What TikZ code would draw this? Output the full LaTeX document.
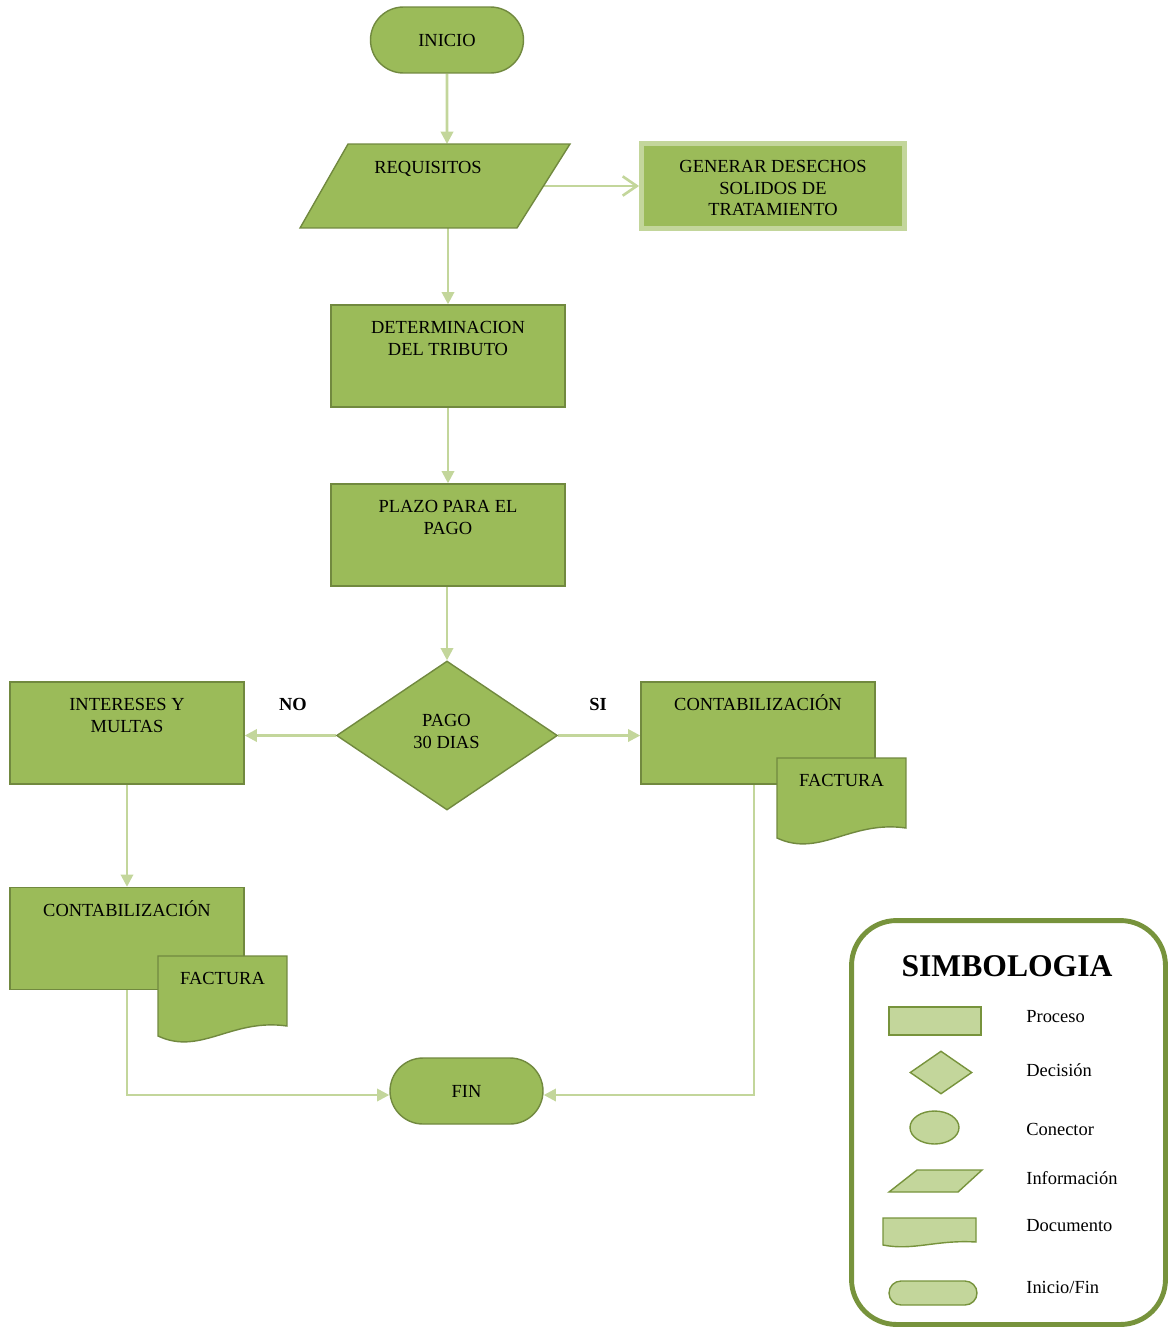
\documentclass[tikz,border=0pt]{standalone}
\usepackage{fontspec}
\setmainfont{Liberation Serif}
\usetikzlibrary{arrows.meta, positioning, shapes.geometric, shapes.misc, calc, backgrounds}

\definecolor{leaf}{HTML}{9BBB59}
\definecolor{leafdark}{HTML}{71893F}
\definecolor{leaflight}{HTML}{C3D69B}
\definecolor{legendline}{HTML}{77933C}

% slanted box (Informacion) drawn round a holder node
\newcommand{\slantbox}[4]{%
  \path [#4] (#1.south west) -- ($(#1.north west)+(#2,0)$) -- (#1.north east)
    -- ($(#1.south east)+(-#3,0)$) -- cycle;}
% document shape with a wavy bottom
\newcommand{\docbox}[3]{%
  \path [#3] (#1.south east) -- (#1.north east) -- (#1.north west)
    -- ($(#1.south west)+(0,10*#2)$)
    .. controls ($(#1.south west)!0.33!(#1.south east)+(0,30*#2)$)
    and ($(#1.south west)!0.57!(#1.south east)+(0,-8*#2)$) .. (#1.south east)
    -- cycle;}

\tikzset{
  base/.style = {fill=leaf, draw=leafdark, line width=0.8pt, inner sep=0pt,
    align=center, font=\fontsize{10.5}{12.5}\selectfont},
  proc/.style = {base, rectangle, minimum width=4.68cm, minimum height=2.04cm},
  terminal/.style = {base, rounded rectangle, minimum width=3.06cm, minimum height=1.32cm},
  decision/.style = {base, diamond, minimum width=4.42cm, minimum height=2.98cm},
  holder/.style = {rectangle, inner sep=0pt, outer sep=0pt},
  txt/.style = {align=center, inner sep=0pt, font=\fontsize{10.5}{12.5}\selectfont},
  answer/.style = {inner sep=0pt, font=\bfseries\fontsize{10.5}{12.5}\selectfont},
  sym/.style = {fill=leaflight, draw=legendline, line width=0.8pt, inner sep=0pt},
  symtxt/.style = {anchor=west, inner sep=0pt, font=\fontsize{10.5}{12.5}\selectfont},
  link/.style = {draw=leaflight, line width=1.5pt, -{Triangle[length=7pt,width=7pt]}},
  link open/.style = {draw=leaflight, line width=1.5pt, -{Straight Barb[length=8pt,width=11pt]}}
}

\begin{document}
\begin{tikzpicture}[x=0.02cm, y=-0.02cm]
    \useasboundingbox (0,0) rectangle (1170,1329);

    % flow
    \node (ini) [terminal] at (447,40) {INICIO};
    \node (req) [holder, minimum width=5.4cm, minimum height=1.68cm] at (435,186) {};
    \slantbox{req}{48}{53}{base}
    \node (reqT) [txt, below=0.34cm of req.north, xshift=-0.14cm] {REQUISITOS};
    \node (gen) [proc, draw=leaflight, line width=2.8pt,
        minimum width=5.26cm, minimum height=1.70cm] at (773,186) {};
    \node (genT) [txt] at (773,188) {GENERAR DESECHOS\\SOLIDOS DE\\TRATAMIENTO};
    \node (det) [proc] at (448,356) {};
    \node (detT) [txt, below=0.34cm of det.north] {DETERMINACION\\DEL TRIBUTO};
    \node (plazo) [proc] at (448,535) {};
    \node (plazoT) [txt, below=0.34cm of plazo.north] {PLAZO PARA EL\\PAGO};
    \node (pago) [decision] at (447,735.5) {};
    \node (pagoT) [txt] at (446.5,731) {PAGO\\30 DIAS};

    % NO branch
    \node (int) [proc] at (127,733) {};
    \node (intT) [txt, below=0.34cm of int.north] {INTERESES Y\\MULTAS};
    \node (no) [answer] at (293,704) {NO};
    \node (cont1) [proc] at (127,938.5) {};
    \node (cont1T) [txt, below=0.26cm of cont1.north] {CONTABILIZACIÓN};
    \node (fac1) [holder, minimum width=2.58cm, minimum height=1.40cm] at (222.5,991) {};
    \docbox{fac1}{1}{base}
    \node (fac1T) [txt, below=0.32cm of fac1.north] {FACTURA};

    % SI branch
    \node (si) [answer] at (598,704) {SI};
    \node (cont2) [proc] at (758,733) {};
    \node (cont2T) [txt, below=0.26cm of cont2.north] {CONTABILIZACIÓN};
    \node (fac2) [holder, minimum width=2.58cm, minimum height=1.40cm] at (841.5,793) {};
    \docbox{fac2}{1}{base}
    \node (fac2T) [txt, below=0.32cm of fac2.north] {FACTURA};

    \node (fin) [terminal] at (466.5,1091) {FIN};

    \begin{scope}[on background layer]
    \draw [link] (ini) -- (ini |- req.north);
    \draw [link open] (req.center) -- (gen);
    \draw [link] (det.north |- req.south) -- (det);
    \draw [link] (det) -- (plazo);
    \draw [link] (plazo.south -| pago.north) -- (pago);
    \draw [link] (pago.west) -- (int.east |- pago.west);
    \draw [link] (pago.east) -- (cont2.west |- pago.east);
    \draw [link] (int) -- (cont1);
    \draw [link] (cont1.south) |- ($(fin.west)+(0,4)$);
    \draw [link] ($(cont2.south)+(-4,0)$) |- ($(fin.east)+(0,4)$);
    \end{scope}

    % legend
    \node (legend) [draw=legendline, line width=2.8pt, rounded corners=0.9cm,
        minimum width=6.28cm, minimum height=8.08cm, inner sep=0pt] at (1008.5,1122.5) {};
    \node (legT) [font=\bfseries\fontsize{18}{20}\selectfont] at (1007,966) {SIMBOLOGIA};
    \node (sProc) [sym, rectangle, minimum width=1.84cm, minimum height=0.56cm] at (935,1021) {};
    \node (sDec) [sym, diamond, minimum width=1.24cm, minimum height=0.86cm] at (941,1072.5) {};
    \node (sCon) [sym, ellipse, minimum width=0.98cm, minimum height=0.66cm] at (934.5,1127.5) {};
    \node (sInf) [holder, minimum width=1.86cm, minimum height=0.44cm] at (935.5,1181) {};
    \slantbox{sInf}{28}{24}{sym}
    \node (sDoc) [holder, minimum width=1.86cm, minimum height=0.48cm] at (929.5,1230) {};
    \docbox{sDoc}{0.3}{sym}
    \node (sTer) [sym, rounded rectangle, minimum width=1.76cm, minimum height=0.48cm] at (933,1293) {};

    \node (lProc) [symtxt] at (1026,1017) {Proceso};
    \node (lDec) [symtxt] at (1026,1070) {Decisión};
    \node (lCon) [symtxt] at (1026,1129) {Conector};
    \node (lInf) [symtxt] at (1026,1178) {Información};
    \node (lDoc) [symtxt] at (1026,1226) {Documento};
    \node (lTer) [symtxt] at (1026,1287) {Inicio/Fin};
\end{tikzpicture}
\end{document}
